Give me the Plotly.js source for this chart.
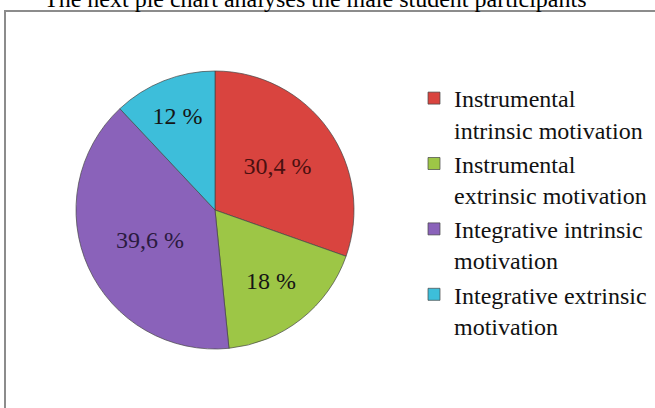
<!DOCTYPE html>
<html>
<head>
<meta charset="utf-8">
<script src="https://cdn.plot.ly/plotly-3.0.1.min.js"></script>
<style>html,body{margin:0;padding:0;background:#fff;}#chart{width:655px;height:408px;}</style>
</head>
<body>
<div id="chart"></div>
<script>
const categories = [
  "Instrumental<br>intrinsic motivation",
  "Instrumental<br>extrinsic motivation",
  "Integrative intrinsic<br>motivation",
  "Integrative extrinsic<br>motivation"
];
const percentages = [30.4, 18, 39.6, 12];
const sliceColors = ["#D9443F", "#9DC646", "#8A62BA", "#3DBEDA"];
const labelColors = ["#4a1010", "#151515", "#2a1a40", "#151515"];
const headingText = "The next pie chart analyses the male student participants";

const SERIF = "'Liberation Serif', 'Times New Roman', 'DejaVu Serif', serif";
const W = 655, H = 408;
const cx = 215, cy = 210, r = 139;

const trace = {
  type: "pie",
  labels: categories,
  values: percentages,
  sort: false,
  direction: "clockwise",
  rotation: 0,
  marker: { colors: sliceColors, line: { color: "rgba(70,70,70,0.7)", width: 1 } },
  texttemplate: "%{value} %",
  textposition: "inside",
  insidetextorientation: "horizontal",
  insidetextfont: { family: SERIF, size: 24, color: labelColors },
  hoverinfo: "label+percent",
  domain: {
    x: [(cx - r) / W, (cx + r) / W],
    y: [(H - cy - r) / H, (H - cy + r) / H]
  }
};

const layout = {
  width: W, height: H,
  margin: { l: 0, r: 0, t: 0, b: 0 },
  paper_bgcolor: "#ffffff",
  separators: ", ",
  showlegend: true,
  legend: {
    x: 414 / W, xanchor: "left",
    y: (H - 76) / H, yanchor: "top",
    font: { family: SERIF, size: 24, color: "#111" },
    valign: "top",
    bgcolor: "rgba(0,0,0,0)"
  },
  shapes: [{
    type: "rect", xref: "paper", yref: "paper",
    x0: 5 / W, x1: 1.02, y0: -0.02, y1: (H - 11) / H,
    line: { color: "#8c8c8c", width: 2 }, fillcolor: "rgba(0,0,0,0)", layer: "below"
  }],
  annotations: [{
    text: headingText, xref: "paper", yref: "paper",
    x: 42 / W, xanchor: "left", y: (H + 16) / H, yanchor: "top",
    showarrow: false, font: { family: SERIF, size: 24, color: "#000" }
  }]
};

Plotly.newPlot("chart", [trace], layout, { staticPlot: true, displayModeBar: false });
</script>
</body>
</html>
